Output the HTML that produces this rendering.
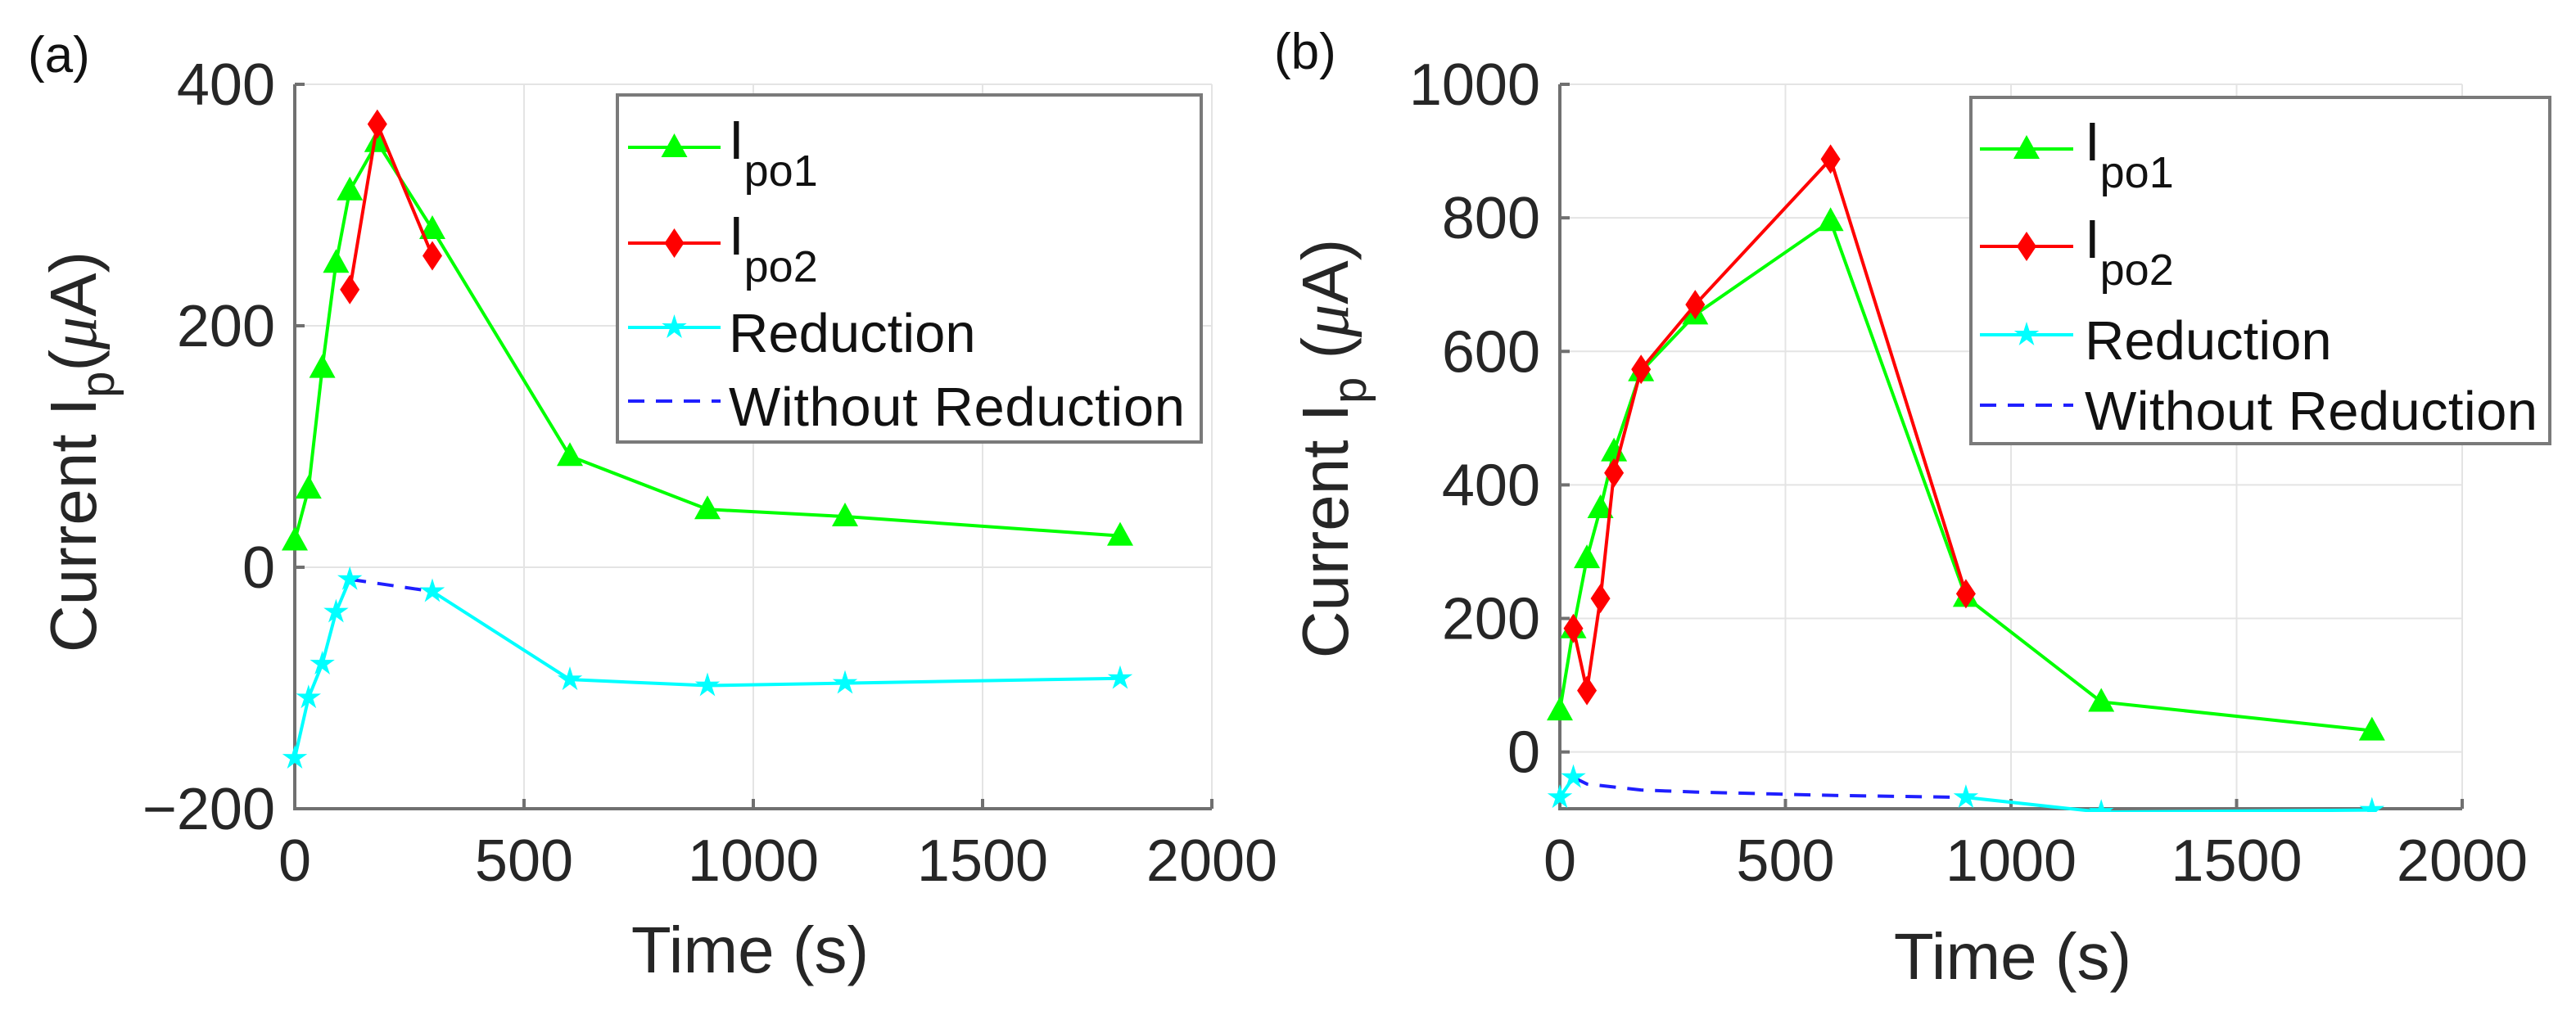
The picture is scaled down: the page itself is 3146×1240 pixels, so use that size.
<!DOCTYPE html>
<html><head><meta charset="utf-8"><style>
html,body{margin:0;padding:0;background:#fff;}
svg{display:block;font-family:"Liberation Sans",Arial,sans-serif;}
</style></head><body>
<svg id="fig" width="3146" height="1240" viewBox="0 0 3146 1240" xmlns="http://www.w3.org/2000/svg"></svg>
<script>
// Panel (a) data
const aTime1=[0,30,60,90,120,180,300,600,900,1200,1800];
const aIpo1=[22,65,165,252,312,352,280,92,48,42,26];
const aTime2=[120,180,300];
const aIpo2=[230,367,258];
const aTimeR=[0,30,60,90,120,300,600,900,1200,1800];
const aRed=[-158,-108,-80,-37,-10,-20,-93,-98,-96,-92];
const aTimeW=[120,300];
const aWithout=[-10,-20];
const aYTicks=[-200,0,200,400];
const aYTickLabels=["\u2212200","0","200","400"];
// Panel (b) data
const bTime1=[0,30,60,90,120,180,300,600,900,1200,1800];
const bIpo1=[62,185,290,365,450,570,655,795,232,75,32];
const bTime2=[30,60,90,120,180,300,600,900];
const bIpo2=[185,92,230,418,573,670,888,237];
const bTimeR=[0,30,900,1200,1800];
const bRed=[-68,-38,-68,-90,-87];
const bTimeW=[30,60,180,300,600,900];
const bWithout=[-38,-48,-57,-60,-65,-68];
const bYTicks=[0,200,400,600,800,1000];
const bYTickLabels=["0","200","400","600","800","1000"];
const xTicks=[0,500,1000,1500,2000];
const xTickLabels=["0","500","1000","1500","2000"];

const NS="http://www.w3.org/2000/svg";
const svg=document.getElementById('fig');
function mk(tag,attrs,parent){const e=document.createElementNS(NS,tag);for(const k in attrs)e.setAttribute(k,attrs[k]);(parent||svg).appendChild(e);return e;}

function panel(cfg){
  const g=mk('g',{});
  
  
  const sx=v=>cfg.L+(v-0)/(2000-0)*(cfg.R-cfg.L);
  const sy=v=>cfg.B-(v-cfg.ymin)/(cfg.ymax-cfg.ymin)*(cfg.B-cfg.T);
  xTicks.forEach(t=>{const l=mk('line',{x1:sx(t),x2:sx(t),y1:cfg.T,y2:cfg.B,stroke:'#e4e4e4','stroke-width':2},g);
    });
  cfg.yTicks.forEach(t=>{const l=mk('line',{x1:cfg.L,x2:cfg.R,y1:sy(t),y2:sy(t),stroke:'#e4e4e4','stroke-width':2},g);
    });
  const ax=mk('path',{d:`M${cfg.L},${cfg.T}V${cfg.B}H${cfg.R}`,fill:'none',stroke:'#707070','stroke-width':4},g);
  
  xTicks.forEach((t,i)=>{
    mk('line',{x1:sx(t),x2:sx(t),y1:cfg.B,y2:cfg.B-12,stroke:'#707070','stroke-width':4},g);
    const tx=mk('text',{x:sx(t),y:cfg.B+88,'font-size':72,'text-anchor':'middle',fill:'#262626'},g);
    tx.textContent=xTickLabels[i];
    
  });
  cfg.yTicks.forEach((t,i)=>{
    mk('line',{x1:cfg.L,x2:cfg.L+12,y1:sy(t),y2:sy(t),stroke:'#707070','stroke-width':4},g);
    const tx=mk('text',{x:cfg.L-24,y:sy(t)+25,'font-size':72,'text-anchor':'end',fill:'#262626'},g);
    tx.textContent=cfg.yTickLabels[i];
    
  });
  const xt=mk('text',{x:cfg.xtX,y:cfg.xtY,'font-size':80,'text-anchor':'middle',fill:'#262626'},g);
  xt.textContent='Time (s)';
  
  const yt=mk('text',{transform:`translate(${cfg.ytX},${cfg.ytY}) rotate(-90)`,'font-size':80,'text-anchor':'middle',fill:'#262626'},g);
  
  yt.innerHTML='Current I<tspan font-size="58" dy="22">p</tspan><tspan dy="-22">'+cfg.gap+'(</tspan><tspan font-style="italic" font-family="Liberation Serif,serif">\u03bc</tspan><tspan>A)</tspan>';
  const pl=mk('text',{x:cfg.plX,y:cfg.plY,'font-size':62,fill:'#111'},g);
  pl.textContent=cfg.label;
  
  const cid='clip'+cfg.name;
  const cp=mk('clipPath',{id:cid},g);mk('rect',{x:cfg.L-30,y:cfg.T-30,width:cfg.R-cfg.L+60,height:cfg.B-cfg.T+34},cp);
  const dg=mk('g',{'clip-path':`url(#${cid})`},g);
  function line(xs,ys,color,name,dash){
    const p=mk('polyline',{points:xs.map((x,i)=>sx(x)+','+sy(ys[i])).join(' '),fill:'none',stroke:color,'stroke-width':4,'stroke-dasharray':dash||'none'},dg);
    
  }
  function tri(x,y,c){const X=sx(x),Y=sy(y);const p=mk('polygon',{points:`${X},${Y-17} ${X-16},${Y+12} ${X+16},${Y+12}`,fill:c},dg);
    }
  function dia(x,y,c){const X=sx(x),Y=sy(y);const p=mk('polygon',{points:`${X},${Y-18} ${X+12},${Y} ${X},${Y+18} ${X-12},${Y}`,fill:c},dg);
    }
  function star(x,y,c){const X=sx(x),Y=sy(y);let pts=[];for(let k=0;k<10;k++){const r=k%2?6:16;const a=-Math.PI/2+k*Math.PI/5;pts.push((X+r*Math.cos(a))+','+(Y+r*Math.sin(a)));}
    const p=mk('polygon',{points:pts.join(' '),fill:c},dg);
    }
  const w0=cfg.tW[0],w1=cfg.tW[cfg.tW.length-1];
  for(let i=0;i<cfg.tR.length-1;i++){
    if(cfg.tR[i]>=w0&&cfg.tR[i+1]<=w1)continue;
    line([cfg.tR[i],cfg.tR[i+1]],[cfg.red[i],cfg.red[i+1]],'#00ffff','reduction-line');
  }
  line(cfg.tW,cfg.wo,'#1f1fff','without-reduction-line','20 14');
  cfg.tR.forEach((x,i)=>star(x,cfg.red[i],'#00ffff'));
  line(cfg.t1,cfg.i1,'#00ff00','ipo1-line');
  cfg.t1.forEach((x,i)=>tri(x,cfg.i1[i],'#00ff00'));
  line(cfg.t2,cfg.i2,'#ff0000','ipo2-line');
  cfg.t2.forEach((x,i)=>dia(x,cfg.i2[i],'#ff0000'));
  const lg=cfg.leg;
  const lgG=mk('g',{},g);
  
  mk('rect',{x:lg.x,y:lg.y,width:lg.w,height:lg.h,fill:'#fff',stroke:'#7a7a7a','stroke-width':4},lgG);
  const fs=lg.fs;
  const items=[['#00ff00','I','po1','tri'],['#ff0000','I','po2','dia'],['#00ffff','Reduction','','star'],['#1f1fff','Without Reduction','','dash']];
  items.forEach((it,i)=>{
    const cy=lg.rows[i];
    const e=mk('g',{},lgG);
    
    mk('line',{x1:lg.lx1,x2:lg.lx2,y1:cy,y2:cy,stroke:it[0],'stroke-width':4,'stroke-dasharray':it[3]=='dash'?'20 14':'none'},e);
    const m=(lg.lx1+lg.lx2)/2;
    if(it[3]=='tri')mk('polygon',{points:`${m},${cy-17} ${m-16},${cy+12} ${m+16},${cy+12}`,fill:it[0]},e);
    if(it[3]=='dia')mk('polygon',{points:`${m},${cy-18} ${m+12},${cy} ${m},${cy+18} ${m-12},${cy}`,fill:it[0]},e);
    if(it[3]=='star'){let pts=[];for(let k=0;k<10;k++){const r=k%2?6:16;const a=-Math.PI/2+k*Math.PI/5;pts.push((m+r*Math.cos(a))+','+(cy+r*Math.sin(a)));}mk('polygon',{points:pts.join(' '),fill:it[0]},e);}
    if(it[2]){
      const t=mk('text',{x:lg.tx,y:cy+14,'font-size':fs,fill:'#111'},e);
      t.innerHTML=it[1]+'<tspan font-size="54" dy="33">'+it[2]+'</tspan>';
    } else {
      const t=mk('text',{x:lg.tx,y:cy+30,'font-size':fs,fill:'#111'},e);
      t.textContent=it[1];
      if(i==3)t.setAttribute('textLength',lg.wlen);
    }
  });
}
panel({name:'panel-a',label:'(a)',plX:34,plY:88,L:360,R:1480,T:103,B:988,ymin:-200,ymax:400,
  yTicks:aYTicks,yTickLabels:aYTickLabels,xtX:916,xtY:1188,ytX:117,ytY:552,gap:'',
  t1:aTime1,i1:aIpo1,t2:aTime2,i2:aIpo2,tR:aTimeR,red:aRed,tW:aTimeW,wo:aWithout,
  leg:{x:754,y:116,w:713,h:424,fs:67,lx1:767,lx2:880,tx:890,wlen:557,rows:[180,297,400,490]}});
panel({name:'panel-b',label:'(b)',plX:1556,plY:84,L:1905,R:3007,T:103,B:988,ymin:-85,ymax:1000,
  yTicks:bYTicks,yTickLabels:bYTickLabels,xtX:2458,xtY:1196,ytX:1646,ytY:548,gap:' ',
  t1:bTime1,i1:bIpo1,t2:bTime2,i2:bIpo2,tR:bTimeR,red:bRed,tW:bTimeW,wo:bWithout,
  leg:{x:2407,y:119,w:707,h:423,fs:67,lx1:2418,lx2:2532,tx:2546,wlen:553,rows:[182,301,409,495]}});
</script>
</body></html>
